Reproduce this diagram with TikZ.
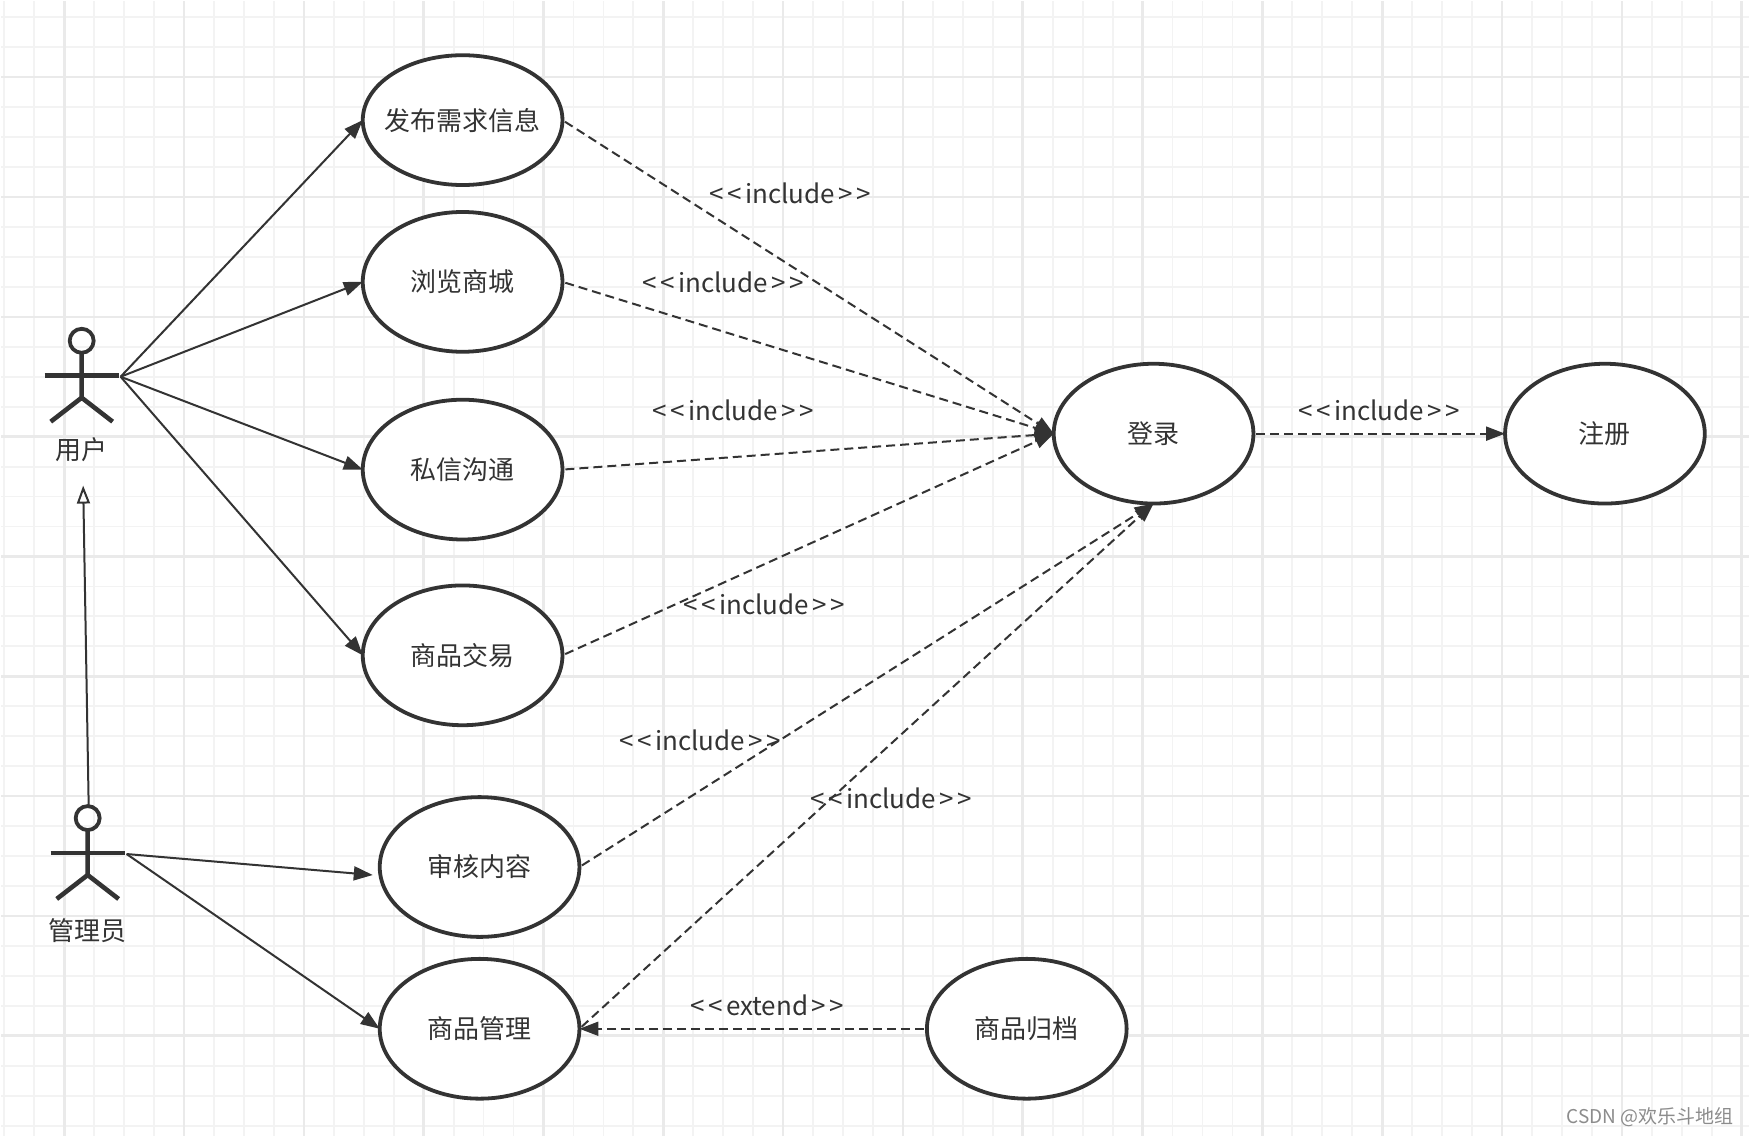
\documentclass[tikz,border=0pt]{standalone}
\usepackage{fontspec}
\setmainfont{Noto Sans CJK SC}
\usepackage{xcolor}
\usepackage{tikz}
\usetikzlibrary{arrows.meta, positioning, shapes.geometric, calc}
\definecolor{ink}{HTML}{333333}
\definecolor{gridminor}{HTML}{F3F3F3}
\definecolor{gridmajor}{HTML}{EAEAEA}
\newcommand{\stereo}[1]{<\kern1.7pt<\kern1.7pt#1\kern1.7pt>\kern1.7pt>}
\tikzset{
  uc/.style  ={ellipse, draw=ink, line width=1.9pt, fill=white, minimum width=100pt, minimum height=70pt, inner sep=0pt, outer sep=0pt, font=\fontsize{13}{15}\selectfont, text=ink},
  fl/.style  ={draw=ink, line width=1pt, -{Triangle[length=9.5pt, width=7pt]}},
  gen/.style ={draw=ink, line width=1pt, -{Triangle[open, length=9pt, width=6.5pt]}},
  dep/.style ={draw=ink, line width=1pt, dash pattern=on 4.5pt off 2.5pt, shorten <=1.5pt, -{Triangle[length=9.5pt, width=7pt]}},
  lbl/.style ={font=\fontsize{13}{15}\selectfont, text=ink, inner sep=1pt},
  who/.style ={font=\fontsize{13}{15}\selectfont, text=ink, inner sep=0pt},
  actor/.pic ={
    \draw[ink, line width=1.9pt] (0,-35) circle[radius=12];
    \draw[ink, line width=2.3pt] (-37,0) -- (37,0);
    \draw[ink, line width=2.3pt] (0,-23) -- (0,22) (-31,46) -- (0,22) -- (31,46);
    \coordinate (-top) at (1,-48);
    \coordinate (-hand) at (39,1);
  },
}
\begin{document}
\begin{tikzpicture}[x=.5pt, y=-.5pt, node distance=13.5pt and 126pt]
  % grid paper
  \fill[white] (0,0) rectangle (1750,1136);
  \foreach \gx in {3,33,...,1743} \draw[gridminor, line width=.9pt] (\gx,0) -- (\gx,1136);
  \foreach \gy in {16,46,...,1126} \draw[gridminor, line width=.9pt] (0,\gy) -- (1750,\gy);
  \foreach \gx in {63,183,...,1743} \draw[gridmajor, line width=1.3pt] (\gx,0) -- (\gx,1136);
  \foreach \gy in {76,196,...,1126} \draw[gridmajor, line width=1.3pt] (0,\gy) -- (1750,\gy);

  % use cases
  \node[uc, minimum height=65pt] (post) at (462,119) {\makebox[0pt]{发布需求信息}};
  \node[uc, below=of post] (browse) {浏览商城};
  \node[uc, below=24pt of browse] (chat) {私信沟通};
  \node[uc, below=23pt of chat] (trade) {商品交易};
  \node[uc] (audit) at (479,867) {审核内容};
  \node[uc, below=11pt of audit] (manage) {商品管理};
  \node[uc, right=174pt of manage] (archive) {商品归档};
  \node[uc] (login) at (1154,433) {登录};
  \node[uc, right=of login] (reg) {注册};

  % actors
  \pic (user) at (80.5,375) {actor};
  \pic (admin) at (86.5,853) {actor};
  \node[who] (userlbl) at (80,449) {用户};
  \node[who] (adminlbl) at (86,931) {管理员};
  \coordinate (usertip) at (82,485);
  \coordinate (audittip) at (372,875);

  \draw[fl] (user-hand) -- (post.west);
  \draw[fl] (user-hand) -- (browse.west);
  \draw[fl] (user-hand) -- (chat.west);
  \draw[fl] (user-hand) -- (trade.west);
  \draw[fl] (admin-hand) -- (audittip);
  \draw[fl] (admin-hand) -- (manage.west);
  \draw[gen] (admin-top) -- (usertip);

  \draw[dep] (post.east) -- (login.west);
  \draw[dep] (browse.east) -- (login.west);
  \draw[dep] (chat.east) -- (login.west);
  \draw[dep] (trade.east) -- (login.west);
  \draw[dep] (audit.east) -- (login.south);
  \draw[dep] (manage.east) -- (login.south);
  \draw[dep] (login.east) -- node[lbl, above=5pt]{\stereo{include}} (reg.west);
  \draw[dep] (archive.west) -- node[lbl, above=5pt, pos=.46]{\stereo{extend}} (manage.east);

  \node[lbl] (inc1) at (790,192) {\stereo{include}};
  \node[lbl] (inc2) at (723,281) {\stereo{include}};
  \node[lbl] (inc3) at (733,410) {\stereo{include}};
  \node[lbl] (inc4) at (764,604) {\stereo{include}};
  \node[lbl] (inc5) at (700,740) {\stereo{include}};
  \node[lbl] (inc6) at (891,798) {\stereo{include}};

  \node[font=\fontsize{9.5}{11}\selectfont, text=black!45, anchor=east, inner sep=0pt] (mark) at (1735,1118) {CSDN @欢乐斗地组};
\end{tikzpicture}
\end{document}
